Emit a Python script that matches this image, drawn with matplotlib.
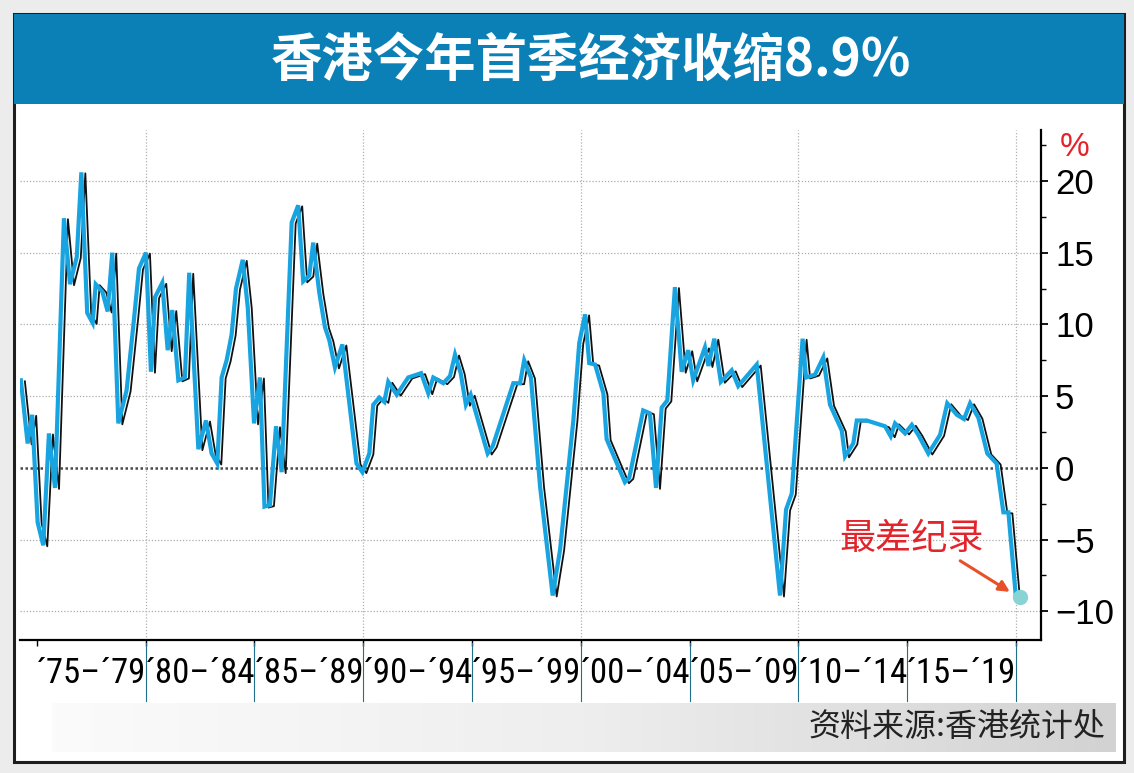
import numpy as np
import matplotlib.pyplot as plt
from matplotlib import font_manager
from matplotlib.patches import Rectangle
from matplotlib.colors import LinearSegmentedColormap
from matplotlib.transforms import offset_copy, blended_transform_factory

# 香港季度GDP同比增长（%），按图上折线拐点读取
years = [1974.26, 1974.57, 1974.78, 1975.03, 1975.29, 1975.55, 1975.83, 1976.24,
         1976.52, 1976.83, 1977.04, 1977.31, 1977.56, 1977.70, 1978.00, 1978.25,
         1978.46, 1978.74, 1979.12, 1979.47, 1979.69, 1980.01, 1980.24, 1980.43,
         1980.76, 1981.01, 1981.22, 1981.50, 1981.80, 1982.00, 1982.42, 1982.77,
         1983.03, 1983.29, 1983.49, 1983.72, 1983.95, 1984.15, 1984.46, 1984.69,
         1984.98, 1985.25, 1985.46, 1985.71, 1985.99, 1986.25, 1986.71, 1987.01,
         1987.24, 1987.52, 1987.70, 1987.98, 1988.24, 1988.44, 1988.70, 1989.04,
         1989.69, 1989.96, 1990.28, 1990.46, 1990.74, 1990.97, 1991.15, 1991.54,
         1992.07, 1992.66, 1992.99, 1993.22, 1993.68, 1993.99, 1994.22, 1994.48,
         1994.72, 1994.94, 1995.72, 1995.95, 1996.90, 1997.21, 1997.40, 1997.71,
         1998.13, 1998.71, 1999.05, 1999.66, 1999.93, 2000.20, 2000.39, 2000.66,
         2001.04, 2001.19, 2002.03, 2002.23, 2002.87, 2003.18, 2003.46, 2003.72,
         2003.98, 2004.33, 2004.64, 2004.94, 2005.17, 2005.71, 2005.87, 2006.14,
         2006.44, 2006.94, 2007.24, 2008.09, 2009.16, 2009.44, 2009.70, 2010.20,
         2010.36, 2010.77, 2011.15, 2011.46, 2012.00, 2012.15, 2012.53, 2012.69,
         2013.15, 2013.99, 2014.25, 2014.45, 2014.91, 2015.22, 2015.52, 2015.98,
         2016.52, 2016.85, 2017.29, 2017.62, 2017.90, 2018.28, 2018.69, 2019.12,
         2019.43, 2019.66, 2020.00]
growth = [6.1, 1.7, 3.7, -3.8, -5.4, 2.4, -1.4, 17.4,
          12.8, 14.7, 20.6, 10.8, 10.1, 12.8, 12.3, 10.9,
          15.0, 3.1, 5.4, 10.5, 13.9, 15.0, 6.7, 11.9,
          12.9, 8.2, 11.0, 6.1, 6.3, 13.6, 1.3, 3.3,
          1.0, 0.3, 6.3, 7.5, 9.3, 12.5, 14.5, 11.2,
          3.1, 6.3, -2.7, -2.6, 2.9, -0.3, 17.1, 18.3,
          13.0, 13.4, 15.7, 12.2, 9.8, 8.9, 7.0, 8.6,
          0.3, -0.3, 1.0, 4.4, 4.9, 4.6, 6.0, 5.1,
          6.3, 6.6, 5.2, 6.3, 5.9, 6.4, 7.9, 6.6,
          4.4, 5.1, 1.0, 1.5, 5.9, 5.9, 7.5, 6.3,
          -1.3, -8.9, -5.7, 3.3, 8.7, 10.7, 7.3, 7.2,
          5.2, 2.0, -1.0, -0.7, 4.0, 3.8, -1.4, 4.2,
          4.7, 12.6, 6.7, 8.2, 6.1, 8.4, 7.1, 9.0,
          6.0, 6.8, 5.7, 7.2, -8.9, -2.9, -1.8, 9.0,
          6.3, 6.5, 7.7, 4.4, 2.6, 0.8, 1.7, 3.3,
          3.3, 2.9, 2.2, 3.1, 2.4, 3.0, 2.3, 1.0,
          2.3, 4.5, 3.7, 3.4, 4.5, 3.5, 1.0, 0.3,
          -3.1, -3.1, -8.9]

period_start = [1975, 1980, 1985, 1990, 1995, 2000, 2005, 2010, 2015]
period_labels = ['´75–´79', '´80–´84', '´85–´89', '´90–´94', '´95–´99',
                 '´00–´04', '´05–´09', '´10–´14', '´15–´19']
y_ticks = [-10, -5, 0, 5, 10, 15, 20]

title = '香港今年首季经济收缩8.9%'
source = '资料来源:香港统计处'
note = '最差纪录'

plt.rcParams['font.family'] = ['Noto Sans CJK SC', 'DejaVu Sans']
plain = ['Liberation Sans', 'DejaVu Sans']

# 找一个窄体字给年份标签用
fonts = font_manager.fontManager.ttflist
names = {f.name for f in fonts}
lab_font = dict(family=plain, fontsize=20)
if 'Liberation Sans Narrow' in names:
    lab_font = dict(family=['Liberation Sans Narrow'], fontsize=27)
elif 'Roboto Condensed' in names:
    lab_font = dict(family=['Roboto Condensed'], fontsize=25)
elif any(f.name == 'DejaVu Sans' and f.stretch == 'condensed' for f in fonts):
    lab_font = dict(family=['DejaVu Sans'], fontstretch='condensed', fontsize=22)

fig = plt.figure(figsize=(11.34, 7.73), dpi=100)
fig.patch.set_facecolor('#ececec')

# 背景层，用像素坐标画框、标题栏、资料来源条
bg = fig.add_axes([0, 0, 1, 1], zorder=0)
bg.axis('off')
bg.add_patch(Rectangle((14, 14), 1110, 748, fc='white', ec='#1e1e1e', lw=2.2))
bg.add_patch(Rectangle((14, 14), 1110, 90, fc='#0b80b6', ec='none'))
bg.text(591, 60, title, color='white', fontsize=37, fontweight='bold',
        ha='center', va='center')
cmap = LinearSegmentedColormap.from_list('g', ['#fbfbfb', '#eeeeee', '#d2d2d2'])
bg.imshow(np.linspace(0, 1, 256).reshape(1, -1), cmap=cmap, aspect='auto',
          extent=(52, 1116, 752, 703), zorder=1)
bg.text(1105, 727, source, fontsize=23, color='#222222', ha='right', va='center', zorder=2)
bg.set_xlim(0, 1134)
bg.set_ylim(773, 0)

# 主图
ax = fig.add_axes([20 / 1134, 1 - 640 / 773, (1041 - 20) / 1134, (640 - 130) / 773], zorder=1)
ax.patch.set_alpha(0)
ax.set_xlim(1974.22, 2021.16)
ax.set_ylim(-12.0, 23.55)

for v in y_ticks:
    if v == 0:
        ax.axhline(v, color='#4a4a4a', lw=1.8, ls=(0, (1, 1)), zorder=1)
    else:
        ax.axhline(v, color='#ababab', lw=0.9, ls=(0, (1, 1.5)), zorder=1)
for yr in range(1980, 2021, 10):
    ax.axvline(yr, color='#b0b0b0', lw=0.9, ls=(0, (1, 1.5)), zorder=1)

# 黑线（稍微错开），蓝线在上
shifted = offset_copy(ax.transData, fig=fig, x=4, y=-1, units='dots')
ax.plot(years, growth, color='#111111', lw=1.3, transform=shifted, zorder=2)
ax.plot(years, growth, color='#18a4e0', lw=3.0, zorder=3, solid_joinstyle='miter')
ax.plot(years[-1], growth[-1], 'o', ms=10, color='#88d4d4', transform=shifted, zorder=4)

# 标注
ax.annotate('', xy=(years[-1], growth[-1]), xytext=(-40, 25), textcoords='offset points',
            arrowprops=dict(arrowstyle='-|>', color='#e8502a', lw=2.2, shrinkA=0, shrinkB=5,
                            mutation_scale=16), zorder=5)
ax.annotate(note, xy=(years[-1], growth[-1]), xytext=(-75, 41), textcoords='offset points',
            fontsize=26, color='#e4242b', ha='center', va='center', zorder=5)

# 坐标轴
ax.spines['left'].set_visible(False)
ax.spines['top'].set_visible(False)
ax.spines['right'].set_linewidth(1.6)
ax.spines['bottom'].set_linewidth(1.6)
ax.yaxis.tick_right()
ax.set_yticks(y_ticks)
ax.set_yticklabels([str(v).replace('-', '−') for v in y_ticks], fontsize=25, family=plain)
ax.set_yticks(np.arange(-7.5, 23, 5), minor=True)
ax.tick_params(axis='y', which='major', direction='out', length=5, width=1.3, pad=5)
ax.tick_params(axis='y', which='minor', direction='out', length=3.5, width=1.0)
ax.set_xticks(range(1975, 2021, 5))
ax.set_xticklabels([])
ax.tick_params(axis='x', which='major', direction='out', length=4, width=1.0)
ax.text(1.018, 0.965, '%', transform=ax.transAxes, color='#e4242b', fontsize=24,
        ha='left', va='center', family=plain)

# 年份分段标签和分隔线
tr = blended_transform_factory(ax.transData, ax.transAxes)
for start, lab in zip(period_start, period_labels):
    ax.text(start + 2.5, -0.065, lab, transform=tr, ha='center', va='center', **lab_font)
    ax.plot([start + 5, start + 5], [-0.005, -0.12], color='#1f6f8b', lw=0.8,
            transform=tr, clip_on=False)

fig.savefig('out.png', dpi=100, facecolor=fig.get_facecolor())
